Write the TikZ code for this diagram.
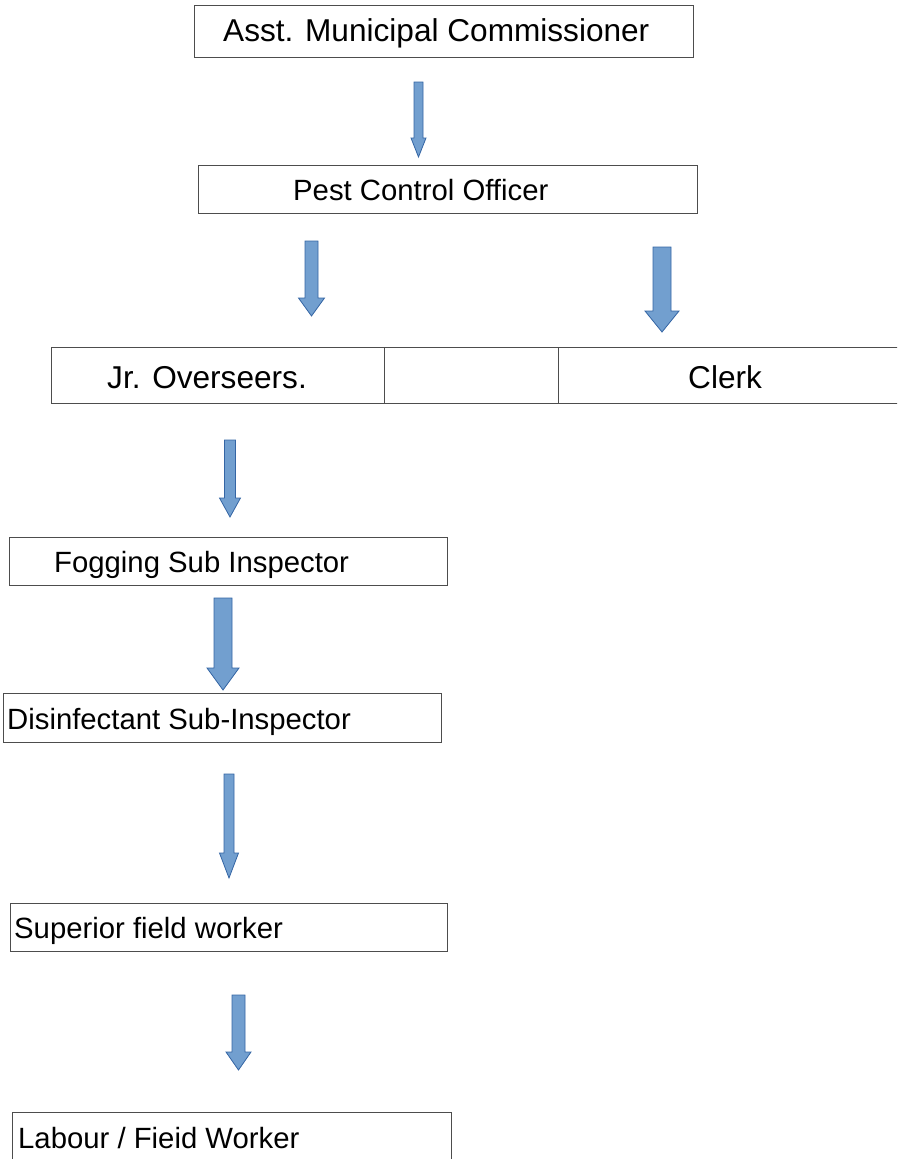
\documentclass[tikz,border=0pt]{standalone}
\usepackage{fontspec}
\setmainfont{Liberation Sans}
\definecolor{arrfill}{HTML}{729FCF}
\definecolor{arrline}{HTML}{3465A4}
\definecolor{boxline}{HTML}{4D4D4D}
\tikzset{
  orgbox/.style={draw=boxline, line width=0.8pt},
  lbl/.style={anchor=base west, inner sep=0pt, font=\fontsize{29.3}{34}\selectfont, text=black},
  biglbl/.style={lbl, font=\fontsize{31.6}{37}\selectfont},
  blockarrow/.style={fill=arrfill, draw=arrline, line width=0.8pt, line join=miter}
}
\newcommand{\barrow}[6]{%
  \draw[blockarrow] ({#1-#2},#4) -- ({#1+#2},#4) -- ({#1+#2},#5) -- ({#1+#3},#5)
    -- (#1,#6) -- ({#1-#3},#5) -- ({#1-#2},#5) -- cycle;}
\begin{document}
\begin{tikzpicture}[x=1pt,y=-1pt]
\useasboundingbox (0,0) rectangle (897,1159);
\clip (0,0) rectangle (897,1159);
% boxes
\draw[orgbox] (194,5) rectangle (693,57);
\node[biglbl] (amc) at (223,41) {Asst. Municipal Commissioner};
\draw[orgbox] (198,165) rectangle (697,213);
\node[lbl] (pco) at (293,200) {Pest Control Officer};
\draw[orgbox] (51,347) rectangle (905,403);
\draw[orgbox] (384,347) -- (384,403);
\draw[orgbox] (558,347) -- (558,403);
\node[biglbl] (jro) at (107,388) {Jr. Overseers.};
\node[biglbl] (clk) at (688,388) {Clerk};
\draw[orgbox] (9,537) rectangle (447,585);
\node[lbl] (fsi) at (54,572) {Fogging Sub Inspector};
\draw[orgbox] (3,693) rectangle (441,742);
\node[lbl] (dsi) at (7,729) {Disinfectant Sub-Inspector};
\draw[orgbox] (10,903) rectangle (447,951);
\node[lbl] (sfw) at (14,938) {Superior field worker};
\draw[orgbox] (12,1112) rectangle (451,1170);
\node[lbl] (lfw) at (18,1148) {Labour / Fieid Worker};
% block arrows
\barrow{418.5}{4.5}{7.5}{82}{138}{157}
\barrow{311.5}{6.5}{13}{241}{298}{316}
\barrow{662}{9}{17}{247}{311}{332}
\barrow{230}{5.5}{10.5}{440}{498}{517}
\barrow{223}{9}{16}{598}{668}{690}
\barrow{229}{5}{9.5}{774}{853}{878}
\barrow{238.5}{6.5}{12.5}{995}{1052}{1070}
\end{tikzpicture}
\end{document}
